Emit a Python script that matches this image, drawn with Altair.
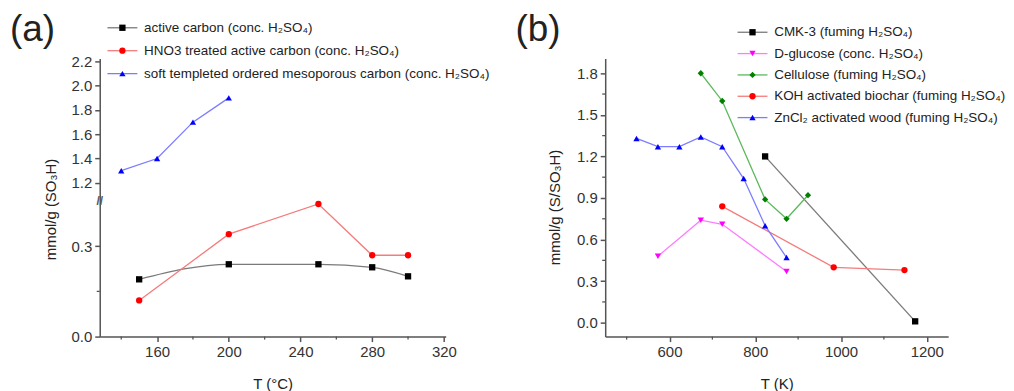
import altair as alt
import pandas as pd

FONT = "Liberation Sans"

# ---------------- Panel (a) data ----------------
a_names = [
    "active carbon (conc. H₂SO₄)",
    "HNO3 treated active carbon (conc. H₂SO₄)",
    "soft templeted ordered mesoporous carbon (conc. H₂SO₄)",
]
a_T_ac = [150, 200, 250, 280, 300]
a_v_ac = [0.19, 0.24, 0.24, 0.23, 0.20]
a_T_hno3 = [150, 200, 250, 280, 300]
a_v_hno3 = [0.12, 0.34, 0.44, 0.27, 0.27]
a_T_ompc = [140, 160, 180, 200]
a_v_ompc = [1.30, 1.40, 1.70, 1.90]
a_marker_colors = ["#000000", "#ff0000", "#0000ff"]
a_line_colors = ["#7a7a7a", "#f47c7c", "#7c7cff"]
a_shapes = ["square", "circle", "triangle-up"]
a_x_ticks = [160, 200, 240, 280, 320]
a_x_minor = [140, 180, 220, 260, 300]
a_y_ticks = [0.0, 0.3, 1.2, 1.4, 1.6, 1.8, 2.0, 2.2]
a_y_minor = [0.15]
a_break = [0.75]

# ---------------- Panel (b) data ----------------
b_names = [
    "CMK-3 (fuming H₂SO₄)",
    "D-glucose (conc. H₂SO₄)",
    "Cellulose (fuming H₂SO₄)",
    "KOH activated biochar (fuming H₂SO₄)",
    "ZnCl₂ activated wood (fuming H₂SO₄)",
]
b_T_cmk = [823, 1173]
b_v_cmk = [1.20, 0.01]
b_T_glu = [573, 673, 723, 873]
b_v_glu = [0.48, 0.74, 0.71, 0.37]
b_T_cel = [673, 723, 823, 873, 923]
b_v_cel = [1.80, 1.60, 0.89, 0.75, 0.92]
b_T_koh = [723, 983, 1148]
b_v_koh = [0.84, 0.40, 0.38]
b_T_zn = [523, 573, 623, 673, 723, 773, 823, 873]
b_v_zn = [1.33, 1.27, 1.27, 1.34, 1.27, 1.04, 0.70, 0.47]
b_marker_colors = ["#000000", "#ff00ff", "#008000", "#ff0000", "#0000ff"]
b_line_colors = ["#7a7a7a", "#ff7cff", "#5cb85c", "#f47c7c", "#7c7cff"]
b_shapes = ["square", "triangle-down", "diamond", "circle", "triangle-up"]
b_x_ticks = [600, 800, 1000, 1200]
b_x_minor = [500, 700, 900, 1100]
b_y_ticks = [0.0, 0.3, 0.6, 0.9, 1.2, 1.5, 1.8]
b_y_minor = [0.15, 0.45, 0.75, 1.05, 1.35, 1.65]


def frame(names, Ts, vs):
    rows = []
    for n, T, v in zip(names, Ts, vs):
        for t, val in zip(T, v):
            rows.append({"s": n, "T": t, "v": val})
    return pd.DataFrame(rows)


dfA = frame(a_names, [a_T_ac, a_T_hno3, a_T_ompc], [a_v_ac, a_v_hno3, a_v_ompc])
dfB = frame(b_names, [b_T_cmk, b_T_glu, b_T_cel, b_T_koh, b_T_zn],
            [b_v_cmk, b_v_glu, b_v_cel, b_v_koh, b_v_zn])

AXC = "#555555"
LEG_FS = 13.5


def y_axis(yticks, ytitle, tx, ty):
    return alt.Axis(values=yticks, format=".1f", title=ytitle, labelPadding=3,
                    titleX=tx, titleY=ty, titleBaseline="bottom")


def panel(df, names, mcolors, lcolors, shapes, xs, ys, xticks, xminor, yticks, yminor,
          W, H, xtitle, ytitle, ytitle_x, ytitle_y, leg_x, leg_y, leg_len, row_pad,
          smooth_first, label, extra=None):
    xaxis = alt.Axis(values=xticks, format="d", title=xtitle, labelPadding=3,
                     titlePadding=17)
    yaxis = y_axis(yticks, ytitle, ytitle_x, ytitle_y)
    X = alt.X("T:Q", scale=xs, axis=xaxis)
    Y = alt.Y("v:Q", scale=ys, axis=yaxis)

    sym_size = 40
    half = (leg_len / 2) / ((sym_size ** 0.5) / 2)
    line_symbol = f"M{-half:.3f},0H{half:.3f}"

    common = dict(orient="none", legendX=leg_x, legendY=leg_y, title=None,
                  symbolSize=sym_size, labelFontSize=LEG_FS, rowPadding=row_pad,
                  padding=0, labelOffset=15, labelFont=FONT, labelLimit=0)
    line_legend = alt.Legend(symbolType=line_symbol, symbolStrokeWidth=1.3,
                             labelOpacity=0, **common)
    pt_legend = alt.Legend(labelColor="#222222", symbolStrokeWidth=0, **common)

    lcol = alt.Color("s:N", scale=alt.Scale(domain=names, range=lcolors),
                     legend=line_legend)
    first = df[df.s == names[0]]
    rest = df[df.s != names[0]]
    l1 = alt.Chart(first).mark_line(
        strokeWidth=1.3, interpolate="monotone" if smooth_first else "linear"
    ).encode(x=X, y=Y, color=lcol)
    l2 = alt.Chart(rest).mark_line(strokeWidth=1.3).encode(x=X, y=Y, color=lcol)
    lines = alt.layer(l1, l2)

    pts = alt.Chart(df).mark_point(filled=True, size=sym_size, opacity=1).encode(
        x=X, y=Y,
        color=alt.Color("s:N", scale=alt.Scale(domain=names, range=mcolors),
                        legend=pt_legend),
        shape=alt.Shape("s:N", scale=alt.Scale(domain=names, range=shapes),
                        legend=pt_legend),
    )

    xm = alt.Chart(pd.DataFrame({"T": xminor})).mark_rule(
        color=AXC, strokeWidth=1.3).encode(x=X, y=alt.value(H), y2=alt.value(H + 3))
    ym = alt.Chart(pd.DataFrame({"v": yminor})).mark_rule(
        color=AXC, strokeWidth=1.3).encode(y=Y, x=alt.value(0), x2=alt.value(-3))

    lab = alt.Chart(pd.DataFrame({"t": [label]})).mark_text(
        align="left", baseline="top", fontSize=37, font=FONT, color="#222222"
    ).encode(text="t:N", x=alt.value(-90), y=alt.value(-46))

    layers = [lines, pts, xm, ym, lab]
    if extra is not None:
        layers.append(extra)
    return alt.layer(*layers).resolve_scale(color="independent", shape="independent") \
        .properties(width=W, height=H)


H = 279
# panel a: broken y axis via piecewise scale
xsA = alt.Scale(domain=[128, 321], nice=False, zero=False)
ysA = alt.Scale(domain=[0, 0.45, 1.05, 2.225], range=[H, 143, 143, 0], nice=False,
                zero=False)
brk = alt.Chart(pd.DataFrame({"v": a_break, "t": ["//"]})).mark_text(
    fontSize=12, font=FONT, color=AXC, fontWeight="bold"
).encode(y=alt.Y("v:Q", scale=ysA, axis=y_axis(a_y_ticks, "mmol/g (SO₃H)", -41, 151)),
         x=alt.value(0), text="t:N")

chartA = panel(dfA, a_names, a_marker_colors, a_line_colors, a_shapes, xsA, ysA,
               a_x_ticks, a_x_minor, a_y_ticks, a_y_minor, 347, H, "T (°C)",
               "mmol/g (SO₃H)", -41, 151, 16, -37.5, 30, 8.0, True, "(a)", extra=brk)

xsB = alt.Scale(domain=[450, 1250], nice=False, zero=False)
ysB = alt.Scale(domain=[-0.1, 1.907], nice=False, zero=False)
chartB = panel(dfB, b_names, b_marker_colors, b_line_colors, b_shapes, xsB, ysB,
               b_x_ticks, b_x_minor, b_y_ticks, b_y_minor, 344, H, "T (K)",
               "mmol/g (S/SO₃H)", -43, 149, 141, -33, 30, 6.4, False, "(b)")

chart = alt.hconcat(chartA, chartB, spacing=160, bounds="flush").properties(
    padding={"left": 2, "top": 3, "right": 0, "bottom": 0}
).configure_axis(
    labelFont=FONT, titleFont=FONT, labelFontSize=15, titleFontSize=15,
    labelColor="#333333", titleColor="#222222", titleFontWeight="normal",
    domainColor=AXC, tickColor=AXC, domainWidth=1.5, tickWidth=1.5, tickSize=5,
    grid=False,
).configure_view(stroke=None)

chart.save("out.html", embed_options={"renderer": "svg", "actions": False})
